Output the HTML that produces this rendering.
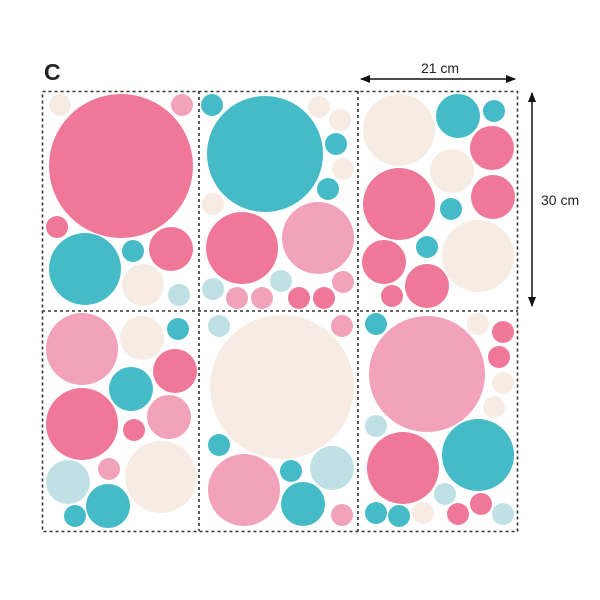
<!DOCTYPE html>
<html><head><meta charset="utf-8"><style>
html,body{margin:0;padding:0;background:#fff}
svg{display:block}
</style></head><body>
<svg width="600" height="600" viewBox="0 0 600 600" xmlns="http://www.w3.org/2000/svg">
<defs>
<style>
.p{fill:#ef7899}.l{fill:#f2a2bb}.t{fill:#45bbc7}.c{fill:#f6ece4}.b{fill:#bfe1e5}
</style>
<marker id="ah" markerWidth="10" markerHeight="10" refX="9" refY="5" orient="auto-start-reverse" markerUnits="userSpaceOnUse">
<path d="M0,1 L10,5 L0,9 Z" fill="#111"/>
</marker>
</defs>
<text x="44" y="80" font-family="Liberation Sans, sans-serif" font-weight="bold" font-size="23" fill="#222">C</text>
<!-- panel 1 -->
<circle class="c" cx="60" cy="105" r="11"/>
<circle class="p" cx="121" cy="166" r="72"/>
<circle class="l" cx="182" cy="105" r="11"/>
<circle class="p" cx="57" cy="227" r="11"/>
<circle class="t" cx="85" cy="269" r="36"/>
<circle class="t" cx="133" cy="251" r="11"/>
<circle class="p" cx="171" cy="249" r="22"/>
<circle class="c" cx="143" cy="285" r="21"/>
<circle class="b" cx="179" cy="295" r="11"/>
<!-- panel 2 -->
<circle class="t" cx="212" cy="105" r="11"/>
<circle class="t" cx="265" cy="154" r="58"/>
<circle class="c" cx="319" cy="107" r="11"/>
<circle class="c" cx="340" cy="120" r="11"/>
<circle class="t" cx="336" cy="144" r="11"/>
<circle class="c" cx="343" cy="169" r="11"/>
<circle class="t" cx="328" cy="189" r="11"/>
<circle class="c" cx="213" cy="204" r="11"/>
<circle class="p" cx="242" cy="248" r="36"/>
<circle class="l" cx="318" cy="238" r="36"/>
<circle class="b" cx="213" cy="289" r="11"/>
<circle class="b" cx="281" cy="281" r="11"/>
<circle class="l" cx="237" cy="298" r="11"/>
<circle class="l" cx="262" cy="298" r="11"/>
<circle class="p" cx="299" cy="298" r="11"/>
<circle class="p" cx="324" cy="298" r="11"/>
<circle class="l" cx="343" cy="282" r="11"/>
<!-- panel 3 -->
<circle class="c" cx="399" cy="130" r="36"/>
<circle class="t" cx="458" cy="116" r="22"/>
<circle class="t" cx="494" cy="111" r="11"/>
<circle class="p" cx="492" cy="148" r="22"/>
<circle class="c" cx="452" cy="171" r="22"/>
<circle class="p" cx="399" cy="204" r="36"/>
<circle class="p" cx="493" cy="197" r="22"/>
<circle class="t" cx="451" cy="209" r="11"/>
<circle class="p" cx="384" cy="262" r="22"/>
<circle class="t" cx="427" cy="247" r="11"/>
<circle class="c" cx="478" cy="256" r="36"/>
<circle class="p" cx="427" cy="286" r="22"/>
<circle class="p" cx="392" cy="296" r="11"/>
<!-- panel 4 -->
<circle class="l" cx="82" cy="349" r="36"/>
<circle class="c" cx="142" cy="338" r="22"/>
<circle class="t" cx="178" cy="329" r="11"/>
<circle class="p" cx="175" cy="371" r="22"/>
<circle class="t" cx="131" cy="389" r="22"/>
<circle class="p" cx="82" cy="424" r="36"/>
<circle class="l" cx="169" cy="417" r="22"/>
<circle class="p" cx="134" cy="430" r="11"/>
<circle class="c" cx="161" cy="477" r="36"/>
<circle class="b" cx="68" cy="482" r="22"/>
<circle class="l" cx="109" cy="469" r="11"/>
<circle class="t" cx="108" cy="506" r="22"/>
<circle class="t" cx="75" cy="516" r="11"/>
<!-- panel 5 -->
<circle class="b" cx="219" cy="326" r="11"/>
<circle class="c" cx="282" cy="387" r="72"/>
<circle class="l" cx="342" cy="326" r="11"/>
<circle class="t" cx="219" cy="445" r="11"/>
<circle class="l" cx="244" cy="490" r="36"/>
<circle class="t" cx="291" cy="471" r="11"/>
<circle class="b" cx="332" cy="468" r="22"/>
<circle class="t" cx="303" cy="504" r="22"/>
<circle class="l" cx="342" cy="515" r="11"/>
<!-- panel 6 -->
<circle class="t" cx="376" cy="324" r="11"/>
<circle class="l" cx="427" cy="374" r="58"/>
<circle class="c" cx="478" cy="324" r="11"/>
<circle class="p" cx="503" cy="332" r="11"/>
<circle class="p" cx="499" cy="357" r="11"/>
<circle class="c" cx="503" cy="383" r="11"/>
<circle class="c" cx="494" cy="407" r="11"/>
<circle class="b" cx="376" cy="426" r="11"/>
<circle class="p" cx="403" cy="468" r="36"/>
<circle class="t" cx="478" cy="455" r="36"/>
<circle class="b" cx="445" cy="494" r="11"/>
<circle class="p" cx="481" cy="504" r="11"/>
<circle class="t" cx="376" cy="513" r="11"/>
<circle class="t" cx="399" cy="516" r="11"/>
<circle class="c" cx="423" cy="513" r="11"/>
<circle class="p" cx="458" cy="514" r="11"/>
<circle class="b" cx="503" cy="514" r="11"/>
<!-- dotted frame -->
<g fill="none" stroke="#333" stroke-width="1.6" stroke-dasharray="3,3">
<rect x="42.5" y="91.5" width="475" height="440"/>
<line x1="42" y1="311" x2="518" y2="311"/>
<line x1="199" y1="91" x2="199" y2="531"/>
<line x1="358" y1="91" x2="358" y2="531"/>
</g>
<!-- dimensions -->
<line x1="361" y1="79" x2="515" y2="79" stroke="#111" stroke-width="1.5" marker-start="url(#ah)" marker-end="url(#ah)"/>
<text x="440" y="73" text-anchor="middle" font-family="Liberation Sans, sans-serif" font-size="14" fill="#222">21 cm</text>
<line x1="532" y1="93" x2="532" y2="306" stroke="#111" stroke-width="1.5" marker-start="url(#ah)" marker-end="url(#ah)"/>
<text x="541" y="205" font-family="Liberation Sans, sans-serif" font-size="14" fill="#222">30 cm</text>
</svg>
</body></html>
